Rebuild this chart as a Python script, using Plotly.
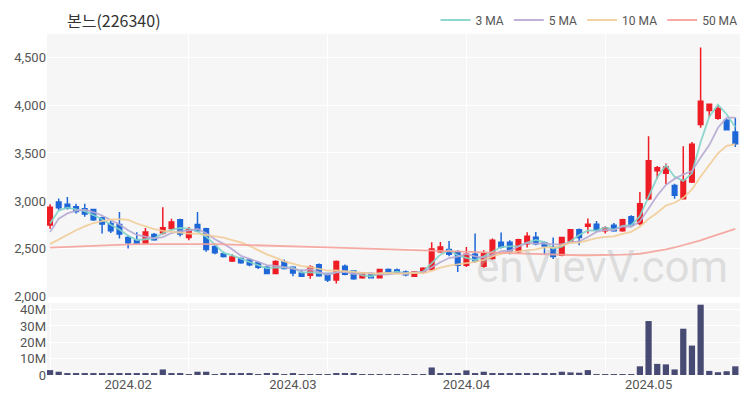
import plotly.graph_objects as go
from plotly.subplots import make_subplots

dates = [
    "2024-01-19", "2024-01-22", "2024-01-23", "2024-01-24", "2024-01-25", "2024-01-26", "2024-01-29", "2024-01-30", "2024-01-31",
    "2024-02-01", "2024-02-02", "2024-02-05", "2024-02-06", "2024-02-07", "2024-02-08", "2024-02-13", "2024-02-14", "2024-02-15",
    "2024-02-16", "2024-02-19", "2024-02-20", "2024-02-21", "2024-02-22", "2024-02-23", "2024-02-26", "2024-02-27", "2024-02-28",
    "2024-02-29",
    "2024-03-04", "2024-03-05", "2024-03-06", "2024-03-07", "2024-03-08", "2024-03-11", "2024-03-12", "2024-03-13", "2024-03-14",
    "2024-03-15", "2024-03-18", "2024-03-19", "2024-03-20", "2024-03-21", "2024-03-22", "2024-03-25", "2024-03-26", "2024-03-27",
    "2024-03-28", "2024-03-29",
    "2024-04-01", "2024-04-02", "2024-04-03", "2024-04-04", "2024-04-05", "2024-04-08", "2024-04-09", "2024-04-11", "2024-04-12",
    "2024-04-15", "2024-04-16", "2024-04-17", "2024-04-18", "2024-04-19", "2024-04-22", "2024-04-23", "2024-04-24", "2024-04-25",
    "2024-04-26", "2024-04-29", "2024-04-30",
    "2024-05-02", "2024-05-03", "2024-05-07", "2024-05-08", "2024-05-09", "2024-05-10", "2024-05-13", "2024-05-14", "2024-05-16",
    "2024-05-17", "2024-05-20",
]

open_ = [2750, 2990, 2965, 2940, 2920, 2910, 2825, 2765, 2755, 2620,
         2590, 2562, 2650, 2665, 2712, 2805, 2618, 2755, 2710, 2525,
         2450, 2375, 2400, 2385, 2355, 2310, 2245, 2365, 2310, 2250,
         2226, 2335, 2245, 2175, 2320, 2270, 2200, 2240, 2200, 2285,
         2280, 2260, 2215, 2260, 2285, 2470, 2495, 2470, 2330, 2445,
         2320, 2400, 2570, 2570, 2470, 2555, 2622, 2565, 2515, 2435,
         2583, 2700, 2736, 2757, 2690, 2746, 2690, 2835, 2764, 3024,
         3315, 3290, 3160, 3024, 3198, 3798, 3944, 3862, 3840, 3719]
high = [2965, 3025, 3040, 2970, 2970, 2920, 2835, 2800, 2885, 2640,
        2675, 2718, 2665, 2935, 2815, 2815, 2729, 2885, 2722, 2538,
        2470, 2444, 2410, 2400, 2375, 2320, 2382, 2390, 2320, 2285,
        2330, 2347, 2250, 2380, 2337, 2278, 2260, 2250, 2290, 2295,
        2295, 2275, 2270, 2310, 2570, 2573, 2583, 2486, 2521, 2660,
        2486, 2610, 2670, 2590, 2607, 2675, 2677, 2580, 2618, 2625,
        2708, 2712, 2816, 2790, 2736, 2770, 2815, 2850, 3094, 3674,
        3365, 3390, 3180, 3570, 3614, 4600, 4010, 3990, 3857, 3868]
low = [2710, 2900, 2910, 2870, 2835, 2790, 2660, 2665, 2610, 2505,
       2545, 2555, 2585, 2650, 2695, 2630, 2590, 2677, 2470, 2445,
       2410, 2365, 2345, 2320, 2290, 2235, 2235, 2285, 2215, 2210,
       2190, 2210, 2155, 2140, 2225, 2180, 2190, 2195, 2195, 2245,
       2245, 2215, 2210, 2255, 2280, 2460, 2425, 2260, 2312, 2355,
       2305, 2385, 2505, 2445, 2455, 2515, 2538, 2438, 2395, 2425,
       2570, 2538, 2660, 2680, 2660, 2680, 2680, 2730, 2746, 3007,
       3228, 3178, 3024, 3015, 3188, 3764, 3870, 3847, 3736, 3562]
close = [2935, 2930, 2925, 2890, 2865, 2805, 2760, 2690, 2655, 2565,
         2560, 2677, 2595, 2720, 2780, 2655, 2700, 2690, 2495, 2460,
         2420, 2416, 2355, 2335, 2310, 2245, 2370, 2295, 2250, 2215,
         2312, 2220, 2175, 2370, 2235, 2190, 2250, 2200, 2285, 2250,
         2255, 2230, 2260, 2300, 2500, 2520, 2445, 2330, 2445, 2375,
         2450, 2590, 2520, 2470, 2597, 2632, 2555, 2530, 2420, 2618,
         2700, 2618, 2757, 2694, 2722, 2690, 2805, 2746, 2972, 3420,
         3345, 3354, 3059, 3215, 3590, 4040, 4007, 3962, 3743, 3595]

volume_m = [3.0, 2.0, 1.0, 0.8, 0.8, 0.8, 0.7, 0.6, 1.0, 0.8,
            0.7, 0.8, 1.0, 3.4, 1.0, 1.0, 0.5, 2.0, 2.0, 0.5,
            0.6, 1.0, 0.6, 0.6, 0.5, 1.2, 0.6, 0.5, 0.6, 0.4,
            0.4, 0.4, 0.4, 1.2, 1.0, 0.8, 0.3, 0.3, 0.3, 0.3,
            0.3, 0.3, 0.3, 0.5, 4.6, 1.2, 1.0, 1.0, 2.8, 0.8,
            2.0, 1.2, 0.8, 0.6, 0.6, 0.6, 0.6, 0.6, 0.8, 2.0,
            1.6, 1.4, 3.0, 0.5, 0.4, 0.4, 0.5, 0.4, 5.3, 33.0,
            6.8, 6.5, 3.4, 28.3, 18.0, 43.0, 2.5, 1.7, 2.3, 5.3]

ma3 = [2765, 2900, 2930, 2915, 2893, 2853, 2810, 2752, 2702, 2637,
       2593, 2601, 2611, 2664, 2698, 2718, 2712, 2682, 2628, 2548,
       2458, 2432, 2397, 2369, 2333, 2297, 2308, 2303, 2305, 2253,
       2259, 2249, 2236, 2255, 2260, 2265, 2225, 2213, 2245, 2245,
       2263, 2245, 2248, 2263, 2353, 2440, 2488, 2432, 2407, 2383,
       2423, 2472, 2520, 2527, 2529, 2566, 2595, 2572, 2502, 2523,
       2579, 2645, 2692, 2690, 2724, 2702, 2739, 2747, 2841, 3046,
       3246, 3373, 3253, 3209, 3288, 3615, 3879, 4003, 3904, 3767]
ma5 = [2677, 2816, 2870, 2900, 2909, 2883, 2849, 2802, 2755, 2695,
       2646, 2629, 2610, 2623, 2666, 2685, 2690, 2709, 2664, 2600,
       2553, 2496, 2429, 2397, 2367, 2332, 2323, 2311, 2294, 2275,
       2288, 2258, 2234, 2258, 2262, 2238, 2244, 2249, 2232, 2235,
       2248, 2244, 2256, 2259, 2309, 2362, 2405, 2419, 2448, 2423,
       2409, 2438, 2476, 2481, 2525, 2562, 2555, 2557, 2547, 2551,
       2565, 2578, 2624, 2677, 2698, 2696, 2734, 2731, 2787, 2927,
       3057, 3167, 3230, 3278, 3311, 3452, 3582, 3763, 3869, 3869]
ma10 = [2550, 2600, 2650, 2695, 2735, 2770, 2790, 2805, 2810, 2802,
        2765, 2739, 2706, 2689, 2681, 2666, 2660, 2660, 2644, 2633,
        2619, 2593, 2569, 2531, 2484, 2443, 2410, 2370, 2346, 2321,
        2310, 2291, 2273, 2276, 2269, 2263, 2251, 2242, 2245, 2249,
        2243, 2244, 2253, 2246, 2272, 2305, 2325, 2338, 2354, 2366,
        2386, 2422, 2448, 2465, 2474, 2485, 2496, 2516, 2514, 2538,
        2563, 2566, 2590, 2613, 2625, 2631, 2656, 2678, 2732, 2813,
        2877, 2951, 2981, 3033, 3120, 3255, 3375, 3497, 3574, 3591]
ma50 = [2514, 2518, 2523, 2528, 2533, 2537, 2541, 2544, 2547, 2549,
        2550, 2551, 2552, 2552, 2553, 2553, 2553, 2552, 2551, 2550,
        2548, 2546, 2544, 2542, 2540, 2537, 2534, 2531, 2528, 2525,
        2522, 2519, 2516, 2513, 2510, 2507, 2504, 2501, 2498, 2495,
        2492, 2489, 2486, 2483, 2480, 2477, 2474, 2471, 2468, 2465,
        2462, 2459, 2456, 2453, 2450, 2447, 2444, 2441, 2438, 2436,
        2435, 2434, 2434, 2434, 2435, 2437, 2440, 2444, 2450, 2465,
        2478, 2495, 2515, 2538, 2562, 2590, 2620, 2650, 2680, 2710]

ma_names = ["3 MA", "5 MA", "10 MA", "50 MA"]
ma_colors = ["#82d4c9", "#b9aad3", "#f2cd98", "#f5a39b"]

price_ticks = [2000, 2500, 3000, 3500, 4000, 4500]
vol_ticks = [0, 10, 20, 30, 40]
vol_ticktext = ["0", "10M", "20M", "30M", "40M"]

idx = list(range(len(dates)))
# first trading day of each month shown
month_ticks, month_text = [], []
prev = dates[0][:7]
for i, d in enumerate(dates):
    if d[:7] != prev:
        month_ticks.append(i)
        month_text.append(d[:4] + "." + d[5:7])
        prev = d[:7]

fig = make_subplots(rows=2, cols=1, shared_xaxes=True)

fig.add_trace(go.Candlestick(
    x=idx, open=open_, high=high, low=low, close=close,
    increasing=dict(line=dict(color="#ee1c25", width=1.5), fillcolor="#ee1c25"),
    decreasing=dict(line=dict(color="#1d67d8", width=1.5), fillcolor="#1d67d8"),
    whiskerwidth=0, showlegend=False, hoverinfo="skip",
), row=1, col=1)

for name, vals, col in zip(ma_names, [ma3, ma5, ma10, ma50], ma_colors):
    fig.add_trace(go.Scatter(
        x=idx, y=vals, mode="lines", name=name,
        line=dict(color=col, width=1.8), opacity=0.9,
    ), row=1, col=1)

fig.add_trace(go.Bar(
    x=idx, y=[v * 1e6 for v in volume_m], marker=dict(color="#474a72", line=dict(width=0)),
    showlegend=False, width=0.72,
), row=2, col=1)

grid = "#ffffff"
tickfont = dict(family="Roboto, Noto Sans CJK KR, sans-serif", size=13, color="#555555")

fig.update_layout(
    width=750, height=400,
    margin=dict(l=47, r=10, t=34, b=25, autoexpand=False),
    paper_bgcolor="white", plot_bgcolor="#f6f6f6",
    font=tickfont,
    showlegend=True,
    boxgap=0.25,
    legend=dict(orientation="h", xref="container", yref="container",
                x=0.99, xanchor="right", y=0.95, yanchor="middle",
                font=dict(family="Roboto, sans-serif", size=12, color="#555555"),
                bgcolor="rgba(0,0,0,0)", itemwidth=30, tracegroupgap=0),
    xaxis=dict(range=[-0.35, 79.54], showgrid=False, showticklabels=False, zeroline=False,
               rangeslider=dict(visible=False),
               minor=dict(tickmode="linear", tick0=0, dtick=16, showgrid=True, gridcolor=grid, gridwidth=1, ticks="")),
    xaxis2=dict(range=[-0.35, 79.54], showgrid=False, zeroline=False,
                tickmode="array", tickvals=month_ticks, ticktext=month_text, ticks="",
                tickfont=dict(family="Roboto, sans-serif", size=13, color="#555555"),
                minor=dict(tickmode="linear", tick0=0, dtick=16, showgrid=True, gridcolor=grid, gridwidth=1, ticks="")),
    yaxis=dict(domain=[0.229, 1.0], range=[2000, 4740], tickmode="array", tickvals=price_ticks,
               tickformat=",d", showgrid=True, gridcolor=grid, gridwidth=1, zeroline=False, ticks=""),
    yaxis2=dict(domain=[0.0, 0.211], range=[0, 44e6], tickmode="array",
                tickvals=[v * 1e6 for v in vol_ticks], ticktext=vol_ticktext,
                showgrid=True, gridcolor=grid, gridwidth=1, zeroline=False, ticks=""),
    bargap=0.2,
)

fig.add_annotation(text="본느(226340)", xref="paper", yref="paper", x=0.026, y=1.041,
                   xanchor="left", yanchor="middle", showarrow=False,
                   font=dict(family="Noto Sans CJK KR", size=16, color="#333333"))

fig.add_annotation(text="enVievV.com", xref="paper", yref="paper", x=0.985, y=0.318,
                   xanchor="right", yanchor="middle", showarrow=False,
                   font=dict(family="Roboto, sans-serif", size=44, color="rgba(190,190,190,0.45)"))

fig.write_html("out.html", config={"displayModeBar": False},
               post_script="document.body.style.margin='0';document.body.style.overflow='hidden';")
